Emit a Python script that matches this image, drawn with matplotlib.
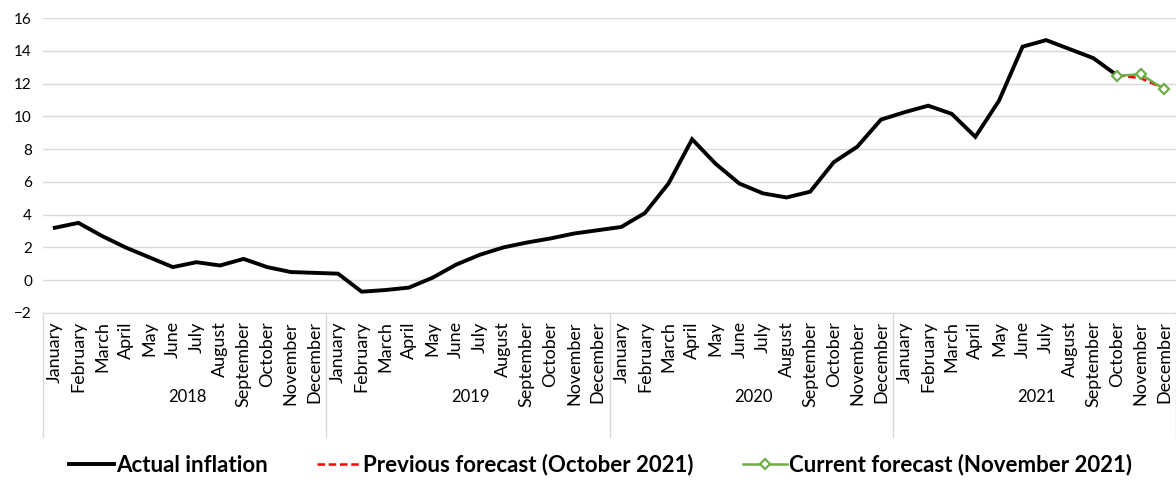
import numpy as np
import matplotlib
matplotlib.use("Agg")
import matplotlib.pyplot as plt
from matplotlib.lines import Line2D

plt.rcParams['font.family'] = ['Lato', 'DejaVu Sans']

# categories
months = ["January", "February", "March", "April", "May", "June", "July",
          "August", "September", "October", "November", "December"]
years = ["2018", "2019", "2020", "2021"]

# actual inflation, Jan 2018 .. Oct 2021
actual = [3.2, 3.5, 2.7, 2.0, 1.4, 0.8, 1.1, 0.9, 1.3, 0.8, 0.5, 0.45,
          0.4, -0.7, -0.6, -0.45, 0.15, 0.95, 1.55, 2.0, 2.3, 2.55, 2.85, 3.05,
          3.25, 4.1, 5.9, 8.6, 7.1, 5.9, 5.3, 5.05, 5.4, 7.2, 8.15, 9.8,
          10.25, 10.65, 10.15, 8.75, 10.95, 14.25, 14.65, 14.1, 13.55, 12.5]
# forecasts Oct..Dec 2021
prev_forecast = [12.5, 12.33, 11.7]
curr_forecast = [12.47, 12.57, 11.66]

n = len(months) * len(years)
x = np.arange(n)
x_act = x[:len(actual)]
x_fc = x[45:48]

fig = plt.figure(figsize=(11.76, 4.88), dpi=100)
ax = fig.add_axes([43 / 1176, 1 - 313 / 488, 1 - 43 / 1176, 295 / 488])

ax.plot(x_act, actual, color='black', lw=2.8, solid_joinstyle='miter', zorder=3)
ax.plot(x_fc, prev_forecast, color='#ff0000', lw=1.8, ls=(0, (3, 1.5)), zorder=4)
ax.plot(x_fc, curr_forecast, color='#70ad47', lw=1.8, marker='D', ms=5.5,
        mfc='white', mec='#70ad47', mew=1.6, zorder=5)

ax.set_xlim(-0.5, n - 0.5)
ax.set_ylim(-2, 16)
ax.set_yticks(np.arange(-2, 17, 2))
ax.grid(axis='y', color='#d9d9d9', lw=1)
ax.set_axisbelow(True)
for s in ['top', 'right', 'left']:
    ax.spines[s].set_visible(False)
ax.spines['bottom'].set_color('#d9d9d9')
ax.tick_params(axis='y', length=0, labelsize=11, pad=8)

ax.set_xticks(x)
ax.set_xticklabels(months * len(years), rotation=90, fontsize=13)
ax.tick_params(axis='x', length=0, pad=6)

# year separators and labels
trans = ax.get_xaxis_transform()
for i in range(len(years) + 1):
    xs = i * 12 - 0.5
    ax.add_line(Line2D([xs, xs], [0, -0.42], transform=trans, color='#d9d9d9',
                       lw=1, clip_on=False))
for i, yr in enumerate(years):
    ax.text(i * 12 + 5.6, -0.285, yr, transform=trans, ha='center', va='center',
            fontsize=12)

handles = [Line2D([], [], color='black', lw=2.8),
           Line2D([], [], color='#ff0000', lw=1.8, ls=(0, (3, 1.5))),
           Line2D([], [], color='#70ad47', lw=1.8, marker='D', ms=5.5,
                  mfc='white', mec='#70ad47', mew=1.6)]
labels = ["Actual inflation", "Previous forecast (October 2021)",
          "Current forecast (November 2021)"]
fig.legend(handles, labels, loc='center', bbox_to_anchor=(0.511, 1 - 465 / 488),
           ncol=3, frameon=False, prop={'weight': 'bold', 'size': 16},
           handlelength=2.0, handletextpad=0.1, columnspacing=2.2)

fig.savefig("out.png", dpi=100)
